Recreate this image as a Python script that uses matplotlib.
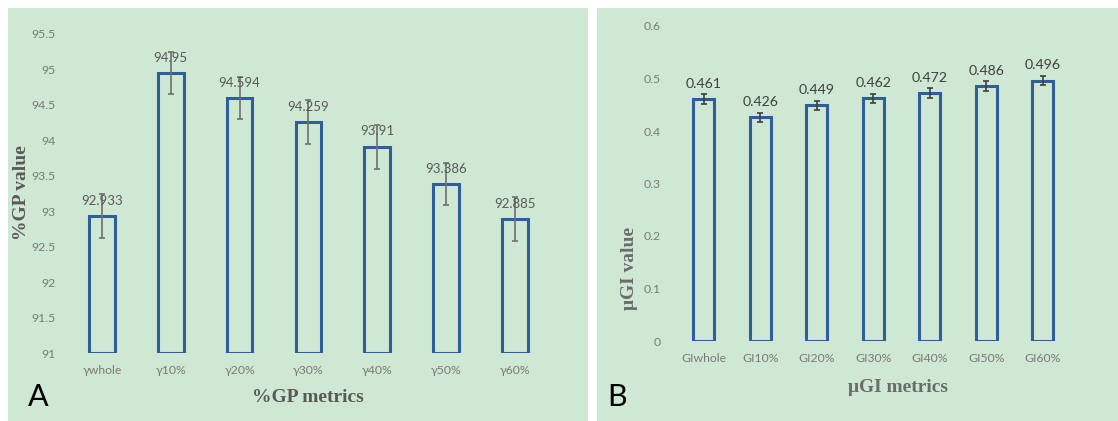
"""Two-panel bar chart of %GP and uGI metrics with error bars."""

import matplotlib

matplotlib.use("Agg")

from matplotlib import pyplot as plt  # noqa: E402
from matplotlib.patches import Rectangle  # noqa: E402

GP_LABELS = ["γwhole", "γ10%", "γ20%", "γ30%", "γ40%", "γ50%", "γ60%"]
GP_VALUES = [92.933, 94.95, 94.594, 94.259, 93.91, 93.386, 92.885]
GP_ERRORS = [0.31, 0.30, 0.30, 0.31, 0.31, 0.30, 0.31]
GP_TICKS = [91, 91.5, 92, 92.5, 93, 93.5, 94, 94.5, 95, 95.5]

GI_LABELS = ["GIwhole", "GI10%", "GI20%", "GI30%", "GI40%", "GI50%", "GI60%"]
GI_VALUES = [0.461, 0.426, 0.449, 0.462, 0.472, 0.486, 0.496]
GI_ERRORS = [0.009, 0.009, 0.009, 0.009, 0.009, 0.009, 0.008]
GI_TICKS = [0, 0.1, 0.2, 0.3, 0.4, 0.5, 0.6]

PANEL_BG = "#cfe8d3"
BAR_EDGE = "#2f5e9a"
SANS = ["Lato", "DejaVu Sans"]
SERIF = ["Liberation Serif", "DejaVu Serif"]

W, H = 1118, 421


def _px(x0, y0, x1, y1):
    """Pixel box (top-left origin) to figure fraction rect."""
    return [x0 / W, 1 - y1 / H, (x1 - x0) / W, (y1 - y0) / H]


def _bar_panel(ax, labels, values, errors, ticks, fmt, err_color, label_color,
               ytick_pad, label_size):
    xs = range(len(values))
    ax.bar(xs, [v - ticks[0] for v in values], width=0.37, bottom=ticks[0],
           facecolor="none", edgecolor=BAR_EDGE, linewidth=2.2)
    ax.errorbar(xs, values, yerr=errors, fmt="none", ecolor=err_color,
                elinewidth=1.2, capsize=2.5, capthick=1.2)
    for x, v in zip(xs, values):
        ax.annotate(fmt.format(v), (x, v), xytext=(0, 11), textcoords="offset points",
                    ha="center", va="center", fontsize=label_size, color=label_color,
                    family=SANS)
    ax.set_xlim(-0.5, len(values) - 0.5)
    ax.set_ylim(ticks[0], ticks[-1])
    ax.set_yticks(ticks)
    ax.set_yticklabels([f"{t:g}" for t in ticks], family=SANS, fontsize=8.8, color="#7a7a7a")
    ax.set_xticks(list(xs))
    ax.set_xticklabels(labels, family=SANS, fontsize=8.8, color="#7a7a7a")
    ax.tick_params(axis="y", length=0, pad=ytick_pad)
    ax.tick_params(axis="x", length=0, pad=8.5)
    ax.set_facecolor("none")
    for spine in ax.spines.values():
        spine.set_visible(False)


fig = plt.figure(figsize=(W / 100, H / 100), dpi=100, facecolor="white")

# panel backgrounds, kept behind the axes
for box in [(8, 8, 588, 421), (597, 8, 1118, 421)]:
    x, y, w, h = _px(*box)
    fig.patches.append(Rectangle((x, y), w, h, transform=fig.transFigure,
                                 facecolor=PANEL_BG, edgecolor="none", zorder=-5))

ax_a = fig.add_axes(_px(67.6, 34, 549.2, 353))
_bar_panel(ax_a, GP_LABELS, GP_VALUES, GP_ERRORS, GP_TICKS, "{:g}",
           "#6f6f6f", "#595959", 8.5, 9.5)

ax_b = fig.add_axes(_px(675.7, 26, 1071.2, 341))
_bar_panel(ax_b, GI_LABELS, GI_VALUES, GI_ERRORS, GI_TICKS, "{:.3f}",
           "#3f3f3f", "#404040", 11, 10.2)

fig.text(22 / W, 1 - 193 / H, "%GP value", rotation=90, ha="center", va="center",
         family=SERIF, fontweight="bold", fontsize=14, color="#595959")
fig.text(308 / W, 1 - 397 / H, "%GP metrics", ha="center", va="center",
         family=SERIF, fontweight="bold", fontsize=14, color="#595959")
fig.text(630 / W, 1 - 268 / H, "μGI value", rotation=90, ha="center", va="center",
         family=SERIF, fontweight="bold", fontsize=14, color="#6b6b6b")
fig.text(898 / W, 1 - 388 / H, "μGI metrics", ha="center", va="center",
         family=SERIF, fontweight="bold", fontsize=14, color="#6b6b6b")

fig.text(38 / W, 1 - 397 / H, "A", ha="center", va="center", family=SANS,
         fontsize=22, color="black")
fig.text(617 / W, 1 - 397 / H, "B", ha="center", va="center", family=SANS,
         fontsize=22, color="black")

fig.savefig("out.png", dpi=100)
